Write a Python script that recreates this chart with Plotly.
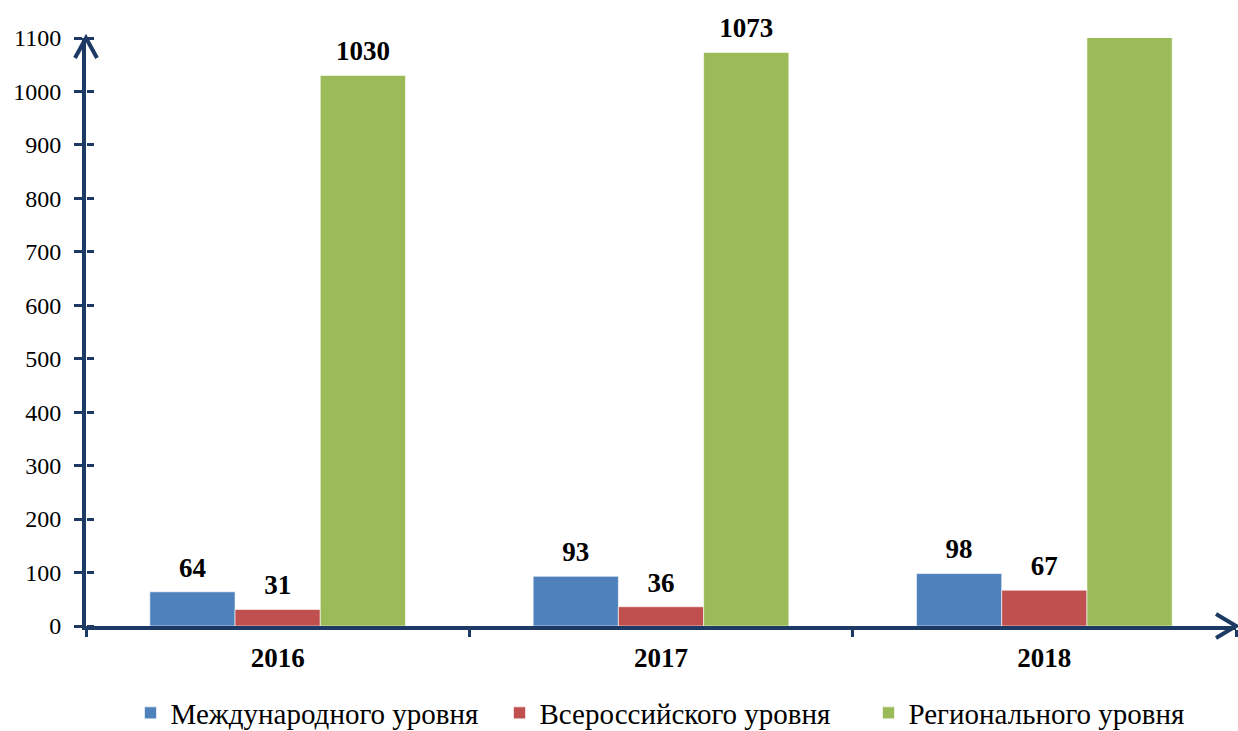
import plotly.graph_objects as go

years = ["2016", "2017", "2018"]
series_names = ["Международного уровня", "Всероссийского уровня", "Регионального уровня"]
international = [64, 93, 98]
all_russian = [31, 36, 67]
regional = [1030, 1073, 1150]
y_ticks = [0, 100, 200, 300, 400, 500, 600, 700, 800, 900, 1000, 1100]

colors = ["#4F81BD", "#C0504D", "#9BBB59"]
ymax = 1100
axis_color = "#1D3A64"
FONT = "Liberation Serif"
GAP = 0.333

fig = go.Figure()
series = [international, all_russian, regional]
for i, (name, vals, col) in enumerate(zip(series_names, series, colors)):
    fig.add_trace(go.Bar(
        x=years, y=vals, name=name, offsetgroup=str(i),
        marker=dict(color=col, line=dict(color="rgba(255,255,255,0.6)", width=1)),
        cliponaxis=True, textposition="none",
    ))
# value labels (not clipped by the plot area; labels of bars running past the axis top are hidden)
for i, vals in enumerate(series):
    fig.add_trace(go.Scatter(
        x=years, y=vals, yaxis="y2", mode="markers+text", offsetgroup=str(i),
        marker=dict(size=12, color="rgba(0,0,0,0)"),
        text=[str(v) if v <= ymax else "" for v in vals],
        textposition="top center",
        textfont=dict(family=FONT, size=27, color="black", weight="bold"),
        cliponaxis=False, showlegend=False, hoverinfo="skip",
    ))

W, H = 1238, 731
L, R, T, B = 86, 2, 38, 105
pw, ph = W - L - R, H - T - B

fig.update_layout(
    width=W, height=H,
    margin=dict(l=L, r=R, t=T, b=B, pad=0, autoexpand=False),
    paper_bgcolor="white", plot_bgcolor="white",
    barmode="group", bargap=GAP, bargroupgap=0,
    scattermode="group", scattergap=GAP,
    font=dict(family=FONT, color="black"),
    showlegend=True,
    legend=dict(orientation="h", x=0.52, xanchor="center", y=-0.148, yanchor="middle",
                font=dict(family=FONT, size=29, color="black"),
                itemwidth=30, tracegroupgap=0, entrywidth=324, entrywidthmode="pixels"),
    xaxis=dict(showline=True, linecolor=axis_color, linewidth=4, automargin=False,
               ticks="outside", tickson="boundaries", ticklen=7, tickwidth=3, tickcolor=axis_color,
               tickfont=dict(family=FONT, size=27, color="black", weight="bold"),
               ticklabelstandoff=5, showgrid=False, zeroline=False),
    yaxis=dict(range=[0, ymax], tickvals=y_ticks, showline=True, linecolor=axis_color, linewidth=4,
               automargin=False, ticks="outside", ticklen=8, tickwidth=3, tickcolor=axis_color,
               tickfont=dict(family=FONT, size=24, color="black"),
               showgrid=False, zeroline=False, ticklabelstandoff=8),
    # second axis at the same place, ticks pointing right, so the ticks cross the axis line
    yaxis2=dict(range=[0, ymax], tickvals=y_ticks, overlaying="y", side="right",
                anchor="free", position=0, automargin=False,
                ticks="outside", ticklen=7, tickwidth=3, tickcolor=axis_color,
                showticklabels=False, showline=False, showgrid=False, zeroline=False),
)

# arrow heads at the ends of the axes (in paper coordinates)
ax_px, ay_px = 11 / pw, 20 / ph
fig.add_shape(type="path", xref="paper", yref="paper",
              path=f"M {-ax_px} {1 - ay_px} L 0 1 L {ax_px} {1 - ay_px}",
              line=dict(color=axis_color, width=4))
hx, hy = 20 / pw, 12 / ph
fig.add_shape(type="path", xref="paper", yref="paper",
              path=f"M {1 - hx} {hy} L 1 0 L {1 - hx} {-hy}",
              line=dict(color=axis_color, width=4))

fig.write_html("out.html", config={"displayModeBar": False},
               post_script="document.body.style.margin='0';document.body.style.overflow='hidden';")
